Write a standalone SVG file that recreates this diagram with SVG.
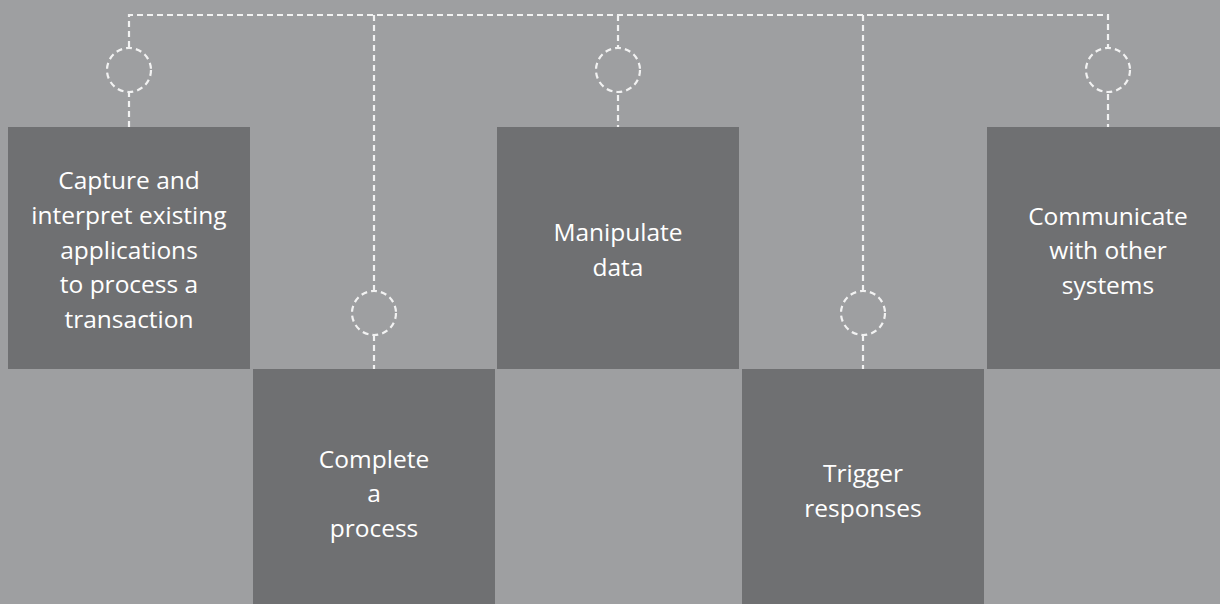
<svg xmlns="http://www.w3.org/2000/svg" width="1220" height="604" viewBox="0 0 1220 604">
<style>
.bg{fill:#9e9fa1}
.box{fill:#6f7072}
.t{font-family:"Open Sans","Liberation Sans",sans-serif;font-size:24.5px;fill:#ffffff;text-anchor:middle}
.c{fill:none;stroke:#f2f2f2;stroke-width:2.2;stroke-dasharray:6 4}
.cc{fill:#9e9fa1;stroke:#f2f2f2;stroke-width:2.2;stroke-dasharray:6 4}
</style>
<rect class="bg" x="0" y="0" width="1220" height="604"/>
<g id="connectors">
<path class="c" d="M129 127V15H1108V127"/>
<path class="c" d="M374 15V369"/>
<path class="c" d="M618 15V127"/>
<path class="c" d="M863 15V369"/>
<circle class="cc" cx="129" cy="70" r="22"/>
<circle class="cc" cx="618" cy="70" r="22"/>
<circle class="cc" cx="1108" cy="70" r="22"/>
<circle class="cc" cx="374" cy="313" r="22"/>
<circle class="cc" cx="863" cy="313" r="22"/>
</g>
<g id="node1">
<rect class="box" x="8" y="127" width="242" height="242"/>
<text class="t" x="129" y="189">Capture and</text>
<text class="t" x="129" y="224">interpret existing</text>
<text class="t" x="129" y="259">applications</text>
<text class="t" x="129" y="293">to process a</text>
<text class="t" x="129" y="328">transaction</text>
</g>
<g id="node2">
<rect class="box" x="253" y="369" width="242" height="235"/>
<text class="t" x="374" y="468">Complete</text>
<text class="t" x="374" y="502">a</text>
<text class="t" x="374" y="537">process</text>
</g>
<g id="node3">
<rect class="box" x="497" y="127" width="242" height="242"/>
<text class="t" x="618" y="241">Manipulate</text>
<text class="t" x="618" y="276">data</text>
</g>
<g id="node4">
<rect class="box" x="742" y="369" width="242" height="235"/>
<text class="t" x="863" y="482">Trigger</text>
<text class="t" x="863" y="517">responses</text>
</g>
<g id="node5">
<rect class="box" x="987" y="127" width="233" height="242"/>
<text class="t" x="1108" y="225">Communicate</text>
<text class="t" x="1108" y="259">with other</text>
<text class="t" x="1108" y="294">systems</text>
</g>
</svg>
